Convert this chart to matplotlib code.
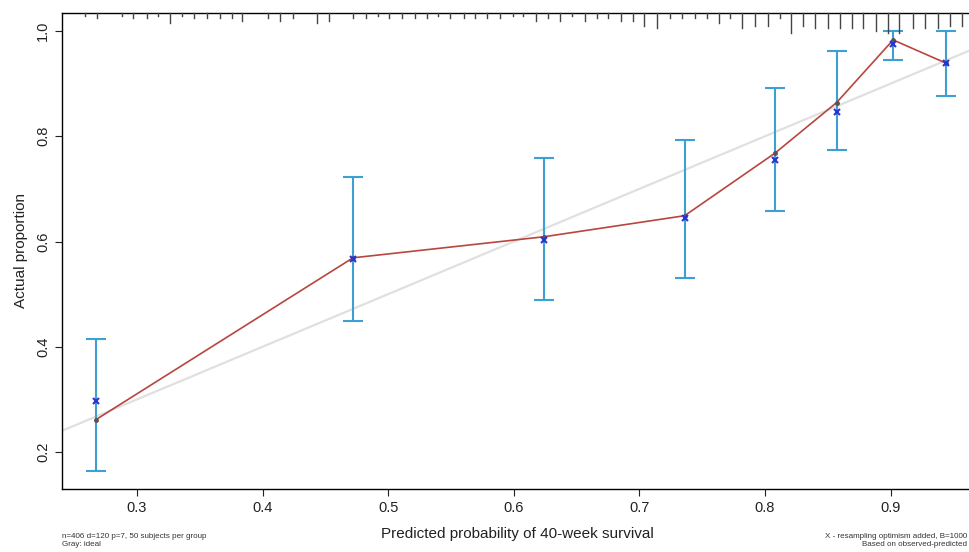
import numpy as np
import matplotlib.pyplot as plt
from matplotlib.transforms import blended_transform_factory

# calibration plot (rms calibrate style)

pred = [0.267, 0.472, 0.624, 0.736, 0.808, 0.857, 0.902, 0.944]
apparent = [0.261, 0.569, 0.609, 0.649, 0.768, 0.864, 0.983, 0.939]
corrected = [0.297, 0.567, 0.603, 0.645, 0.755, 0.846, 0.976, 0.939]
ci_low = [0.164, 0.449, 0.489, 0.531, 0.658, 0.774, 0.945, 0.877]
ci_high = [0.415, 0.723, 0.759, 0.793, 0.892, 0.962, 1.000, 1.000]

# spike histogram of predicted values along the top
rug_x = [0.259, 0.268, 0.288, 0.297, 0.308, 0.317, 0.326, 0.336, 0.345, 0.356,
         0.366, 0.376, 0.384, 0.404, 0.414, 0.424, 0.443, 0.453, 0.472, 0.482,
         0.492, 0.501, 0.511, 0.521, 0.531, 0.540, 0.549, 0.560, 0.569, 0.579,
         0.589, 0.599, 0.607, 0.618, 0.627, 0.637, 0.646, 0.657, 0.666, 0.675,
         0.685, 0.695, 0.704, 0.714, 0.724, 0.734, 0.744, 0.754, 0.763, 0.772,
         0.782, 0.792, 0.802, 0.812, 0.821, 0.830, 0.840, 0.850, 0.860, 0.869,
         0.878, 0.888, 0.898, 0.907, 0.918, 0.927, 0.938, 0.947, 0.957]
rug_n = [1, 2, 1, 2, 2, 1, 4, 1, 2, 2,
         2, 2, 3, 2, 3, 2, 4, 3, 2, 2,
         1, 2, 2, 2, 2, 1, 2, 2, 2, 2,
         2, 1, 1, 3, 2, 3, 1, 3, 2, 2,
         3, 3, 5, 6, 2, 2, 2, 2, 4, 2,
         6, 5, 5, 2, 8, 5, 6, 6, 6, 6,
         6, 7, 8, 8, 6, 6, 6, 5, 5]

plt.rcParams['font.family'] = ['Liberation Sans', 'DejaVu Sans']

fig = plt.figure(figsize=(9.69, 5.52), dpi=100)
ax = fig.add_axes([62/969, 63/552, 911/969, 476/552])

ax.set_xlim(0.2403, 0.9656)
ax.set_ylim(0.1297, 1.0342)

# ideal line
ax.plot([0, 1], [0, 1], color='#e0e0e0', lw=1.6, zorder=1)

ax.errorbar(pred, corrected,
            yerr=[np.array(corrected) - np.array(ci_low), np.array(ci_high) - np.array(corrected)],
            fmt='none', ecolor='#3d9fd2', elinewidth=1.5, capsize=7, capthick=1.5, zorder=2)
ax.plot(pred, apparent, color='#b8463e', lw=1.2, zorder=3)
ax.plot(pred, apparent, 'o', color='#555555', ms=2.5, zorder=4)
ax.plot(pred, corrected, 'x', color='#2a35d0', ms=4.5, mew=1.5, zorder=5)

# spikes hanging from the top border
tr = blended_transform_factory(ax.transData, ax.transAxes)
for x, n in zip(rug_x, rug_n):
    ax.plot([x, x], [1, 1 - n*0.0053], color='#444444', lw=1, transform=tr, clip_on=False, zorder=6)

ax.spines['right'].set_visible(False)
for s in ['left', 'bottom', 'top']:
    ax.spines[s].set_linewidth(1)
ax.set_xticks([0.3, 0.4, 0.5, 0.6, 0.7, 0.8, 0.9])
ax.set_yticks([0.2, 0.4, 0.6, 0.8, 1.0])
ax.tick_params(direction='out', length=5, width=0.8, labelsize=10.5, colors='#222222')
for lab in ax.get_yticklabels():
    lab.set_rotation(90)
    lab.set_va('center')
ax.set_xlabel('Predicted probability of 40-week survival', fontsize=11, labelpad=9, color='#222222')
ax.set_ylabel('Actual proportion', fontsize=11, labelpad=6, color='#222222')

fig.text(62/969, 1 - 537/552, 'n=406 d=120 p=7, 50 subjects per group', fontsize=5.8, va='center', color='#333333')
fig.text(62/969, 1 - 545/552, 'Gray: ideal', fontsize=5.8, va='center', color='#333333')
fig.text(967/969, 1 - 537/552, 'X - resampling optimism added, B=1000', fontsize=5.8, va='center', ha='right', color='#333333')
fig.text(967/969, 1 - 545/552, 'Based on observed-predicted', fontsize=5.8, va='center', ha='right', color='#333333')

fig.savefig('out.png', dpi=100)
